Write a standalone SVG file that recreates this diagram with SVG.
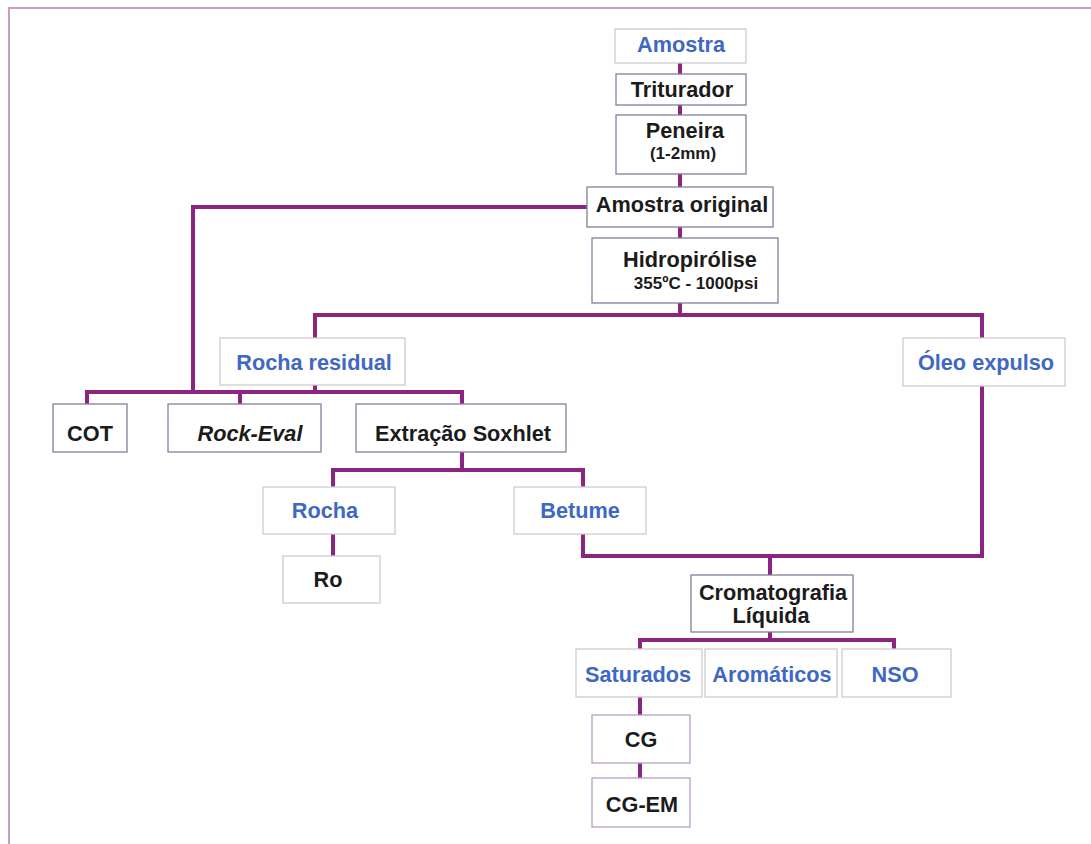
<svg xmlns="http://www.w3.org/2000/svg" width="1091" height="844" viewBox="0 0 1091 844">
<style>
.bg{fill:#ffffff}
.frame{fill:none;stroke:#c99cc6;stroke-width:2}
.box{fill:#ffffff;stroke-width:1.3}
.lt{stroke:#cdcdd2}
.dk{stroke:#857f9c}
.pk{stroke:#b79ccb}
.t{font-family:"Liberation Sans",Arial,sans-serif;font-weight:bold;font-size:21.7px;text-anchor:middle}
.s{font-size:17px}
.blue{fill:#3f68c2}
.blk{fill:#1b1b1b}
.it{font-style:italic}
.con{fill:none;stroke:#8c2482;stroke-width:4;stroke-linejoin:miter;stroke-linecap:square}
</style>
<rect class="bg" x="0" y="0" width="1091" height="844"/>
<rect class="frame" x="9" y="8" width="1100" height="860"/>
<g id="connectors">
<path class="con" d="M680 63V74M680 105V115M680 174V187M680 227V238M680 303V315"/>
<path class="con" d="M315 340V315H982V338"/>
<path class="con" d="M587 207H193V392"/>
<path class="con" d="M315 385V392M87 404V392H462V404M240 392V404"/>
<path class="con" d="M462 452V470M333 487V470H583V487"/>
<path class="con" d="M333 534V556"/>
<path class="con" d="M583 534V556H982V386"/>
<path class="con" d="M770 556V575"/>
<path class="con" d="M770 632V640M640 649V640H894V649"/>
<path class="con" d="M640 697V715M640 763V778"/>
</g>
<g id="amostra"><rect class="box lt" x="615" y="29" width="131" height="34"/><text class="t blue" x="681" y="52">Amostra</text></g>
<g id="triturador"><rect class="box dk" x="616" y="74" width="130" height="31"/><text class="t blk" x="682" y="97">Triturador</text></g>
<g id="peneira"><rect class="box dk" x="616" y="115" width="130" height="59"/><text class="t blk" x="685" y="138">Peneira</text><text class="t s blk" x="683" y="159">(1-2mm)</text></g>
<g id="amostra-original"><rect class="box dk" x="587" y="187" width="186" height="40"/><text class="t blk" x="682" y="212">Amostra original</text></g>
<g id="hidropirolise"><rect class="box dk" x="592" y="238" width="186" height="65"/><text class="t blk" x="690" y="267">Hidropirólise</text><text class="t s blk" x="696" y="289">355ºC - 1000psi</text></g>
<g id="rocha-residual"><rect class="box lt" x="220" y="338" width="185" height="47"/><text class="t blue" x="314" y="370">Rocha residual</text></g>
<g id="oleo-expulso"><rect class="box lt" x="903" y="338" width="162" height="48"/><text class="t blue" x="986" y="370">Óleo expulso</text></g>
<g id="cot"><rect class="box dk" x="53" y="404" width="74" height="48"/><text class="t blk" x="90" y="441">COT</text></g>
<g id="rock-eval"><rect class="box dk" x="168" y="404" width="153" height="48"/><text class="t blk it" x="250" y="441">Rock-Eval</text></g>
<g id="extracao-soxhlet"><rect class="box dk" x="356" y="404" width="210" height="48"/><text class="t blk" x="463" y="441">Extração Soxhlet</text></g>
<g id="rocha"><rect class="box lt" x="263" y="487" width="132" height="47"/><text class="t blue" x="325" y="518">Rocha</text></g>
<g id="betume"><rect class="box lt" x="514" y="487" width="132" height="47"/><text class="t blue" x="580" y="518">Betume</text></g>
<g id="ro"><rect class="box lt" x="283" y="556" width="97" height="47"/><text class="t blk" x="328" y="587">Ro</text></g>
<g id="cromatografia"><rect class="box dk" x="691" y="575" width="162" height="57"/><text class="t blk" x="773" y="600">Cromatografia</text><text class="t blk" x="771" y="623">Líquida</text></g>
<g id="saturados"><rect class="box lt" x="576" y="649" width="126" height="48"/><text class="t blue" x="638" y="682">Saturados</text></g>
<g id="aromaticos"><rect class="box lt" x="705" y="649" width="132" height="48"/><text class="t blue" x="772" y="682">Aromáticos</text></g>
<g id="nso"><rect class="box lt" x="842" y="649" width="109" height="48"/><text class="t blue" x="895" y="682">NSO</text></g>
<g id="cg"><rect class="box pk" x="592" y="715" width="98" height="48"/><text class="t blk" x="641" y="747">CG</text></g>
<g id="cg-em"><rect class="box pk" x="592" y="778" width="98" height="49"/><text class="t blk" x="642" y="812">CG-EM</text></g>
</svg>
